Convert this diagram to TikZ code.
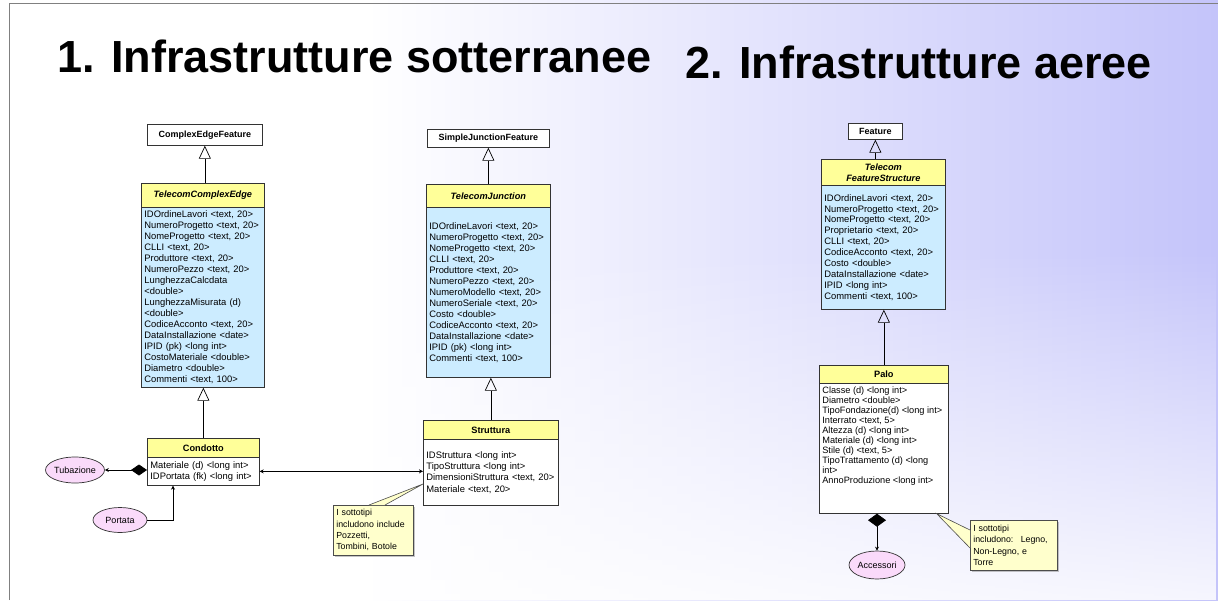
\documentclass[tikz,border=0pt]{standalone}
\usepackage{fontspec}
\setmainfont{Liberation Sans}
\usetikzlibrary{arrows.meta,shapes.geometric,shadows,fadings}

\definecolor{classyellow}{RGB}{255,255,153}
\definecolor{attrblue}{RGB}{204,236,255}
\definecolor{notebg}{RGB}{255,255,204}
\definecolor{rolepink}{RGB}{250,218,250}
\definecolor{slidelav}{RGB}{196,196,250}

\pgfdeclarehorizontalshading{slideshade}{100bp}{color(0bp)=(white); color(40bp)=(white); color(75bp)=(slidelav); color(100bp)=(slidelav)}
\tikzfading[name=fadedown, top color=transparent!100, bottom color=transparent!15]

\begin{document}
\begin{tikzpicture}[x=1pt,y=-1pt]
\tikzset{>=latex}
\tikzset{
  slidetitle/.style={font=\fontsize{45}{50}\selectfont\bfseries, anchor=base west, inner sep=0pt},
  superbox/.style={draw=black!80, line width=0.7pt, fill=white, font=\fontsize{9}{11}\selectfont\bfseries, anchor=north west, inner sep=1pt},
  classhead/.style={draw=black!80, line width=0.7pt, fill=classyellow, font=\fontsize{9.2}{11}\selectfont\bfseries, anchor=north west, inner sep=1pt, align=center},
  classbody/.style={draw=black!80, line width=0.7pt, fill=attrblue, font=\fontsize{9.4}{11}\selectfont, anchor=north west, inner xsep=3pt, inner ysep=2pt, align=left},
  role/.style={ellipse, draw=black!80, line width=0.7pt, fill=rolepink, font=\fontsize{9}{11}\selectfont, inner sep=0pt},
  umlnote/.style={draw=black!70, line width=0.6pt, fill=notebg, drop shadow={shadow xshift=1.5pt, shadow yshift=-1.5pt, fill=black!45}, font=\fontsize{8.8}{11.3}\selectfont, align=left, anchor=north west, inner xsep=3pt, inner ysep=2pt},
  gen/.style={-{Triangle[open, length=13pt, width=12pt]}, line width=0.7pt},
  link/.style={line width=0.7pt},
  smalltip/.tip={Stealth[length=4pt, width=4pt]}
}
\useasboundingbox (0,0) rectangle (1218,600);
\shade[shading=slideshade] (0,0) rectangle (1218,600);
\fill[white, path fading=fadedown] (0,250) rectangle (1218,600);
\draw[black!50, line width=1pt] (9,600) -- (9,3) -- (1218,3);

\node[slidetitle] (title1) at (57,72) {1. Infrastrutture sotterranee};
\node[slidetitle] (title2) at (685,78) {2. Infrastrutture aeree};

% sotterranee
\node[superbox, minimum width=115, minimum height=21] (cef) at (147,124) {ComplexEdgeFeature};
\node[classhead, minimum width=123, minimum height=24] (tcehead) at (141,183) {\itshape TelecomComplexEdge};
\node[classbody, text width=117, minimum height=180] (tceattr) at (141,207) {IDOrdineLavori <text, 20>\\NumeroProgetto <text, 20>\\NomeProgetto <text, 20>\\CLLI <text, 20>\\Produttore <text, 20>\\NumeroPezzo <text, 20>\\LunghezzaCalcdata\\ <double>\\LunghezzaMisurata (d)\\ <double>\\CodiceAcconto <text, 20>\\DataInstallazione <date>\\IPID (pk) <long int>\\CostoMateriale <double>\\Diametro <double>\\Commenti <text, 100>};
\draw[gen] (cef.south |- tcehead.north) -- (cef.south);

\node[classhead, minimum width=112, minimum height=19] (condhead) at (147,438) {Condotto};
\node[classbody, fill=white, text width=106, minimum height=28] (condattr) at (147,457) {Materiale (d) <long int>\\IDPortata (fk) <long int>};
\draw[gen] (condhead.north) -- (condhead.north |- tceattr.south);

\node[role, minimum width=55, minimum height=26] (tub) at (75,470) {Tubazione};
\node[role, minimum width=54, minimum height=25] (port) at (120,520) {Portata};
\draw[link, {smalltip}-{Diamond[length=16pt, width=11pt]}] (tub.east) -- (tub.east -| condattr.west);
\draw[link, -{smalltip}] (port.east) -| ([xshift=26pt]condattr.south west);

\node[superbox, minimum width=122, minimum height=18] (sjf) at (427,129) {SimpleJunctionFeature};
\node[classhead, minimum width=124, minimum height=23] (tjhead) at (426,184) {\itshape TelecomJunction};
\node[classbody, text width=118, minimum height=170] (tjattr) at (426,207) {IDOrdineLavori <text, 20>\\NumeroProgetto <text, 20>\\NomeProgetto <text, 20>\\CLLI <text, 20>\\Produttore <text, 20>\\NumeroPezzo <text, 20>\\NumeroModello <text, 20>\\NumeroSeriale <text, 20>\\Costo <double>\\CodiceAcconto <text, 20>\\DataInstallazione <date>\\IPID (pk) <long int>\\Commenti <text, 100>};
\draw[gen] (sjf.south |- tjhead.north) -- (sjf.south);

\node[classhead, minimum width=135, minimum height=19] (strhead) at (423,420) {Struttura};
\node[classbody, fill=white, text width=129, minimum height=66, font=\fontsize{9.4}{11.3}\selectfont] (strattr) at (423,439) {IDStruttura <long int>\\TipoStruttura <long int>\\DimensioniStruttura <text, 20>\\Materiale <text, 20>};
\draw[gen] (strhead.north) -- (strhead.north |- tjattr.south);
\draw[link, {smalltip}-{smalltip}] (condattr.east) -- (condattr.east -| strattr.west);

\node[umlnote, text width=74, minimum height=50] (note1) at (333,505) {I sottotipi\\includono include\\Pozzetti,\\Tombini, Botole};
\coordinate (strpin) at ([yshift=-45pt]strattr.north west);
\filldraw[fill=notebg, draw=black!70, line width=0.6pt] ([xshift=36pt]note1.north west) -- (strpin) -- ([xshift=52pt]note1.north west);

% aeree
\node[superbox, minimum width=54, minimum height=16] (feat) at (848,123) {Feature};
\node[classhead, minimum width=124, minimum height=26] (tfshead) at (821,159) {\itshape Telecom\\\itshape FeatureStructure};
\node[classbody, text width=118, minimum height=124, font=\fontsize{9.4}{10.9}\selectfont] (tfsattr) at (821,185) {IDOrdineLavori <text, 20>\\NumeroProgetto <text, 20>\\NomeProgetto <text, 20>\\Proprietario <text, 20>\\CLLI <text, 20>\\CodiceAcconto <text, 20>\\Costo <double>\\DataInstallazione <date>\\IPID <long int>\\Commenti <text, 100>};
\draw[gen] (feat.south |- tfshead.north) -- (feat.south);

\node[classhead, minimum width=129, minimum height=18] (palohead) at (819,365) {Palo};
\node[draw=black!80, line width=0.7pt, fill=white, anchor=north west, inner xsep=3pt, inner ysep=3pt, font=\fontsize{9.2}{10}\selectfont] (paloattr) at (819,383) {\parbox[t][124pt][t]{123pt}{\raggedright Classe (d) <long int>\\Diametro <double>\\TipoFondazione(d) <long int>\\Interrato <text, 5>\\Altezza (d) <long int>\\Materiale (d) <long int>\\Stile (d) <text, 5>\\TipoTrattamento (d) <long\\int>\\AnnoProduzione <long int>}};
\draw[gen] (palohead.north) -- (palohead.north |- tfsattr.south);

\node[role, minimum width=56, minimum height=28] (acc) at (877,565) {Accessori};
\draw[link, {Diamond[length=13pt, width=18pt]}-{smalltip}] (acc.north |- paloattr.south) -- (acc.north);

\node[umlnote, text width=81, minimum height=50] (note2) at (970,520) {I sottotipi\\includono:~ Legno,\\Non-Legno, e\\Torre};
\coordinate (palopin) at ([xshift=-12pt]paloattr.south east);
\filldraw[fill=notebg, draw=black!70, line width=0.6pt] ([yshift=-10pt]note2.north west) -- (palopin) -- ([yshift=-28pt]note2.north west);

\end{tikzpicture}
\end{document}
